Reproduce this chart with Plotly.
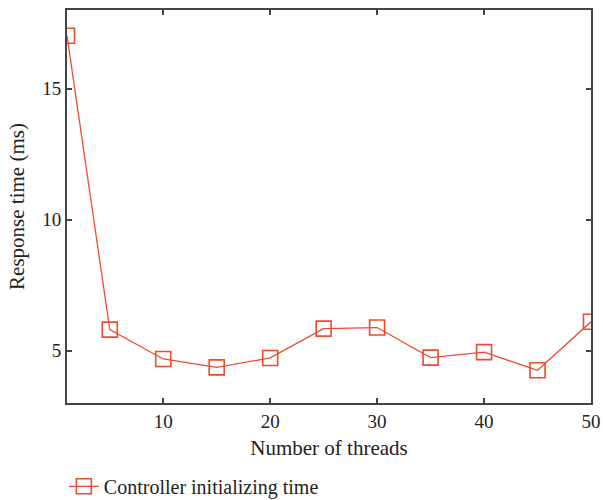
import plotly.graph_objects as go

threads = [1, 5, 10, 15, 20, 25, 30, 35, 40, 45, 50]
response_ms = [17.02, 5.8, 4.68, 4.36, 4.72, 5.84, 5.88, 4.73, 4.94, 4.25, 6.1]
x_ticks = [10, 20, 30, 40, 50]
y_ticks = [5, 10, 15]

red = "#ee4a30"
font_family = "Liberation Serif, Times New Roman, serif"

fig = go.Figure()
fig.add_trace(go.Scatter(
    x=threads, y=response_ms, mode="lines+markers",
    name="Controller initializing time",
    line=dict(color=red, width=1.3),
    marker=dict(symbol="square-open", size=15, color=red, line=dict(width=1.6, color=red)),
))

axis_common = dict(
    showline=True, linecolor="#444444", linewidth=1.8, mirror="ticks",
    ticks="inside", ticklen=5, tickwidth=1.5, tickcolor="#444444",
    showgrid=False, zeroline=False,
    tickfont=dict(family=font_family, size=19, color="#222222"),
)

fig.update_layout(
    width=603, height=500,
    margin=dict(l=67, r=12, t=10, b=97, autoexpand=False),
    paper_bgcolor="white", plot_bgcolor="white",
    font=dict(family=font_family, size=19, color="#222222"),
    xaxis=dict(range=[1, 50], tickvals=x_ticks,
               title=dict(text="Number of threads", font=dict(family=font_family, size=21), standoff=10),
               **axis_common),
    yaxis=dict(range=[3, 18], tickvals=y_ticks,
               title=dict(text="Response time (ms)", font=dict(family=font_family, size=21), standoff=12),
               **axis_common),
    showlegend=True,
    legend=dict(x=-0.006, y=-0.212, xanchor="left", yanchor="middle",
                font=dict(family=font_family, size=20, color="#222222"),
                bgcolor="rgba(0,0,0,0)", borderwidth=0),
)

fig.write_html("out.html")
